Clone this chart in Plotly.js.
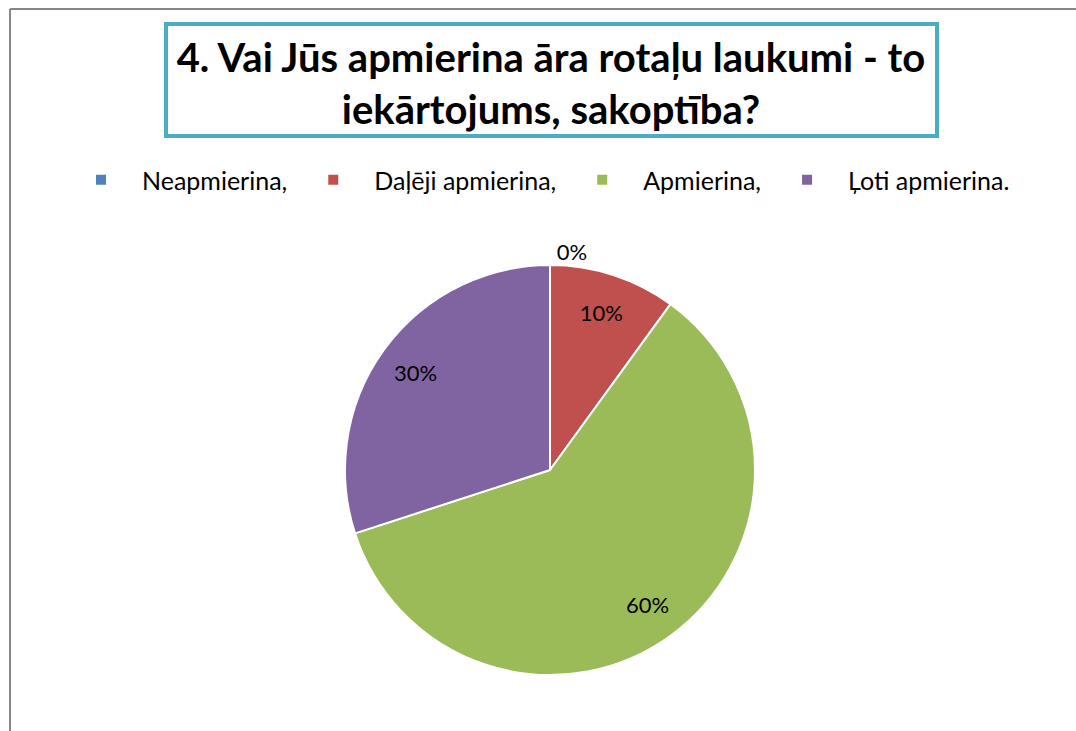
<!DOCTYPE html>
<html>
<head>
<meta charset="utf-8">
<script src="https://cdn.plot.ly/plotly-3.0.1.min.js"></script>
<style>html,body{margin:0;padding:0;background:#fff;}#chart{width:1076px;height:731px;}</style>
</head>
<body>
<div id="chart"></div>
<script>
const categories = ["Neapmierina,", "Daļēji apmierina,", "Apmierina,", "Ļoti apmierina."];
const values = [0, 10, 60, 30];
const percentLabels = ["0%", "10%", "60%", "30%"];
const colors = ["#4F81BD", "#C0504D", "#9BBB59", "#8064A2"];
const titleText = "4. Vai Jūs apmierina āra rotaļu laukumi - to<br>iekārtojums, sakoptība?";

const W = 1076, H = 731;
const fontFam = "Lato, 'Open Sans', sans-serif";
const pieDomain = {x: [345 / W, 755 / W], y: [(H - 675) / H, (H - 265) / H]};

const pieTrace = {
  type: "pie",
  labels: categories,
  values: values,
  textinfo: "none",
  sort: false,
  direction: "clockwise",
  rotation: 0,
  marker: {colors: colors, line: {color: "#ffffff", width: 2}},
  domain: pieDomain,
  showlegend: true
};

// transparent ring carrying the percentage labels further out
const labelTrace = {
  type: "pie",
  labels: categories,
  values: values,
  text: percentLabels,
  textinfo: "text",
  textposition: ["outside", "inside", "inside", "inside"],
  insidetextorientation: "horizontal",
  hole: 0.62,
  sort: false,
  direction: "clockwise",
  rotation: 0,
  marker: {colors: ["rgba(0,0,0,0)", "rgba(0,0,0,0)", "rgba(0,0,0,0)", "rgba(0,0,0,0)"], line: {width: 0}},
  textfont: {family: fontFam, size: 22, color: "#000000"},
  insidetextfont: {family: fontFam, size: 22, color: "#000000"},
  outsidetextfont: {family: fontFam, size: 22, color: "#000000"},
  domain: pieDomain,
  showlegend: false
};

const layout = {
  width: W, height: H,
  margin: {l: 0, r: 0, t: 0, b: 0},
  paper_bgcolor: "#ffffff",
  plot_bgcolor: "#ffffff",
  showlegend: true,
  title: {
    text: titleText,
    font: {family: fontFam, size: 40, color: "#000000", weight: "bold"},
    x: 551 / W, xanchor: "center",
    y: 1 - 72 / H, yanchor: "middle"
  },
  legend: {
    orientation: "h",
    x: 60 / W, xanchor: "left",
    y: 1 - 180 / H, yanchor: "middle",
    font: {family: fontFam, size: 25, color: "#000000"},
    itemwidth: 72,
    traceorder: "normal"
  },
  shapes: [
    {type: "line", xref: "paper", yref: "paper", x0: 10 / W, x1: 1, y0: 1 - 9 / H, y1: 1 - 9 / H, line: {color: "#878787", width: 2}},
    {type: "line", xref: "paper", yref: "paper", x0: 10 / W, x1: 10 / W, y0: 0, y1: 1 - 9 / H, line: {color: "#878787", width: 2}},
    {type: "rect", xref: "paper", yref: "paper", x0: 166 / W, x1: 937 / W, y0: 1 - 136 / H, y1: 1 - 24 / H, line: {color: "#4BACC6", width: 4}}
  ]
};

Plotly.newPlot("chart", [pieTrace, labelTrace], layout, {displayModeBar: false, staticPlot: true});
</script>
</body>
</html>
